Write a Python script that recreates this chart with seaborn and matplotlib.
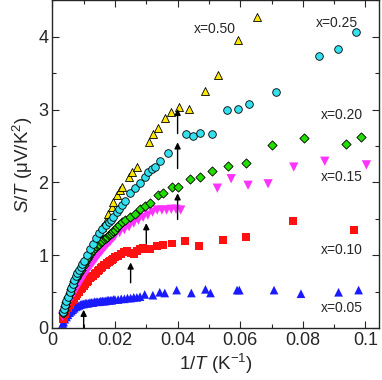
import matplotlib
matplotlib.use("Agg")
import matplotlib.pyplot as plt
import seaborn as sns

# ---- data ----
x_05 = [0.0033,0.0036,0.004,0.0045,0.005,0.0055,0.006,0.0065,0.007,0.0075,0.008,0.0085,0.009,0.0095,0.010,0.0105,0.011,0.0115,0.012,0.0125,0.013,0.0135,0.014,0.0145,0.015,0.0155,0.016,0.0165,0.017,0.0175,0.018,0.0185,0.019,0.0195,0.020,0.021,0.022,0.023,0.024,0.025,0.026,0.027,0.028,
        0.0295,0.0321,0.0343,0.0359,0.0397,0.0444,0.0489,0.0505,0.059,0.0597,0.0708,0.0794,0.0914,0.0978]
y_05 = [0.06,0.08,0.12,0.15,0.18,0.21,0.23,0.25,0.27,0.29,0.30,0.31,0.32,0.33,0.33,0.34,0.34,0.34,0.35,0.35,0.35,0.36,0.36,0.36,0.36,0.37,0.37,0.37,0.37,0.38,0.38,0.38,0.38,0.39,0.39,0.39,0.40,0.40,0.41,0.41,0.42,0.42,0.43,
        0.46,0.45,0.49,0.48,0.52,0.48,0.53,0.48,0.52,0.52,0.52,0.47,0.49,0.52]

x_10 = [0.0033,0.0036,0.004,0.0045,0.005,0.0055,0.006,0.0065,0.007,0.0075,0.008,0.0085,0.009,0.0095,0.010,0.0105,0.011,0.0115,0.012,0.0125,0.013,0.0135,0.014,0.0145,0.015,0.0155,0.016,0.0165,0.017,0.0175,0.018,0.0185,0.019,0.0195,0.020,0.021,0.022,0.023,0.024,0.025,0.026,0.027,0.028,0.029,0.030,
        0.0312,0.0335,0.0354,0.0383,0.0424,0.0467,0.0546,0.0619,0.0768,0.0962]
y_10 = [0.12,0.15,0.19,0.23,0.27,0.31,0.35,0.38,0.41,0.44,0.47,0.50,0.53,0.55,0.58,0.60,0.63,0.65,0.68,0.70,0.72,0.74,0.76,0.78,0.80,0.82,0.84,0.86,0.87,0.89,0.91,0.92,0.94,0.95,0.97,0.99,1.02,1.04,1.06,1.03,1.02,1.06,1.08,1.10,1.08,
        1.09,1.12,1.14,1.16,1.19,1.12,1.21,1.25,1.47,1.34]

x_15 = [0.0033,0.0036,0.004,0.0045,0.005,0.0055,0.006,0.0065,0.007,0.0075,0.008,0.0085,0.009,0.0095,0.010,0.0105,0.011,0.0115,0.012,0.0125,0.013,0.0135,0.014,0.0145,0.015,0.0155,0.016,0.0165,0.017,0.0175,0.018,0.0185,0.019,0.0195,0.020,
        0.0215,0.023,0.0245,0.026,0.0275,0.029,0.0305,0.032,0.0335,0.035,0.0365,0.038,0.0395,0.041,
        0.0527,0.0571,0.0625,0.0689,0.0771,0.0870,0.1003]
y_15 = [0.16,0.19,0.23,0.28,0.33,0.37,0.41,0.45,0.49,0.53,0.57,0.61,0.64,0.68,0.71,0.75,0.78,0.81,0.84,0.87,0.90,0.93,0.96,0.99,1.02,1.04,1.07,1.10,1.12,1.15,1.17,1.19,1.22,1.24,1.26,
        1.31,1.35,1.39,1.44,1.48,1.52,1.55,1.59,1.62,1.62,1.62,1.63,1.63,1.62,
        1.92,2.05,1.96,1.98,2.21,2.29,2.24]

x_20 = [0.0033,0.0036,0.004,0.0045,0.005,0.0055,0.006,0.0065,0.007,0.0075,0.008,0.0085,0.009,0.0095,0.010,0.0105,0.011,0.0115,0.012,0.0125,0.013,0.0135,0.014,0.0145,0.015,0.0155,0.016,0.0165,0.017,0.0175,0.018,0.0185,0.019,0.0195,0.020,
        0.0206,0.0214,0.0222,0.0232,0.0248,0.0264,0.028,0.0297,0.0312,0.0338,0.0354,0.0383,0.0402,0.0441,0.0473,0.0511,0.0562,0.0619,0.0702,0.0803,0.0937,0.0987]
y_20 = [0.21,0.25,0.30,0.36,0.42,0.48,0.53,0.59,0.64,0.68,0.72,0.76,0.80,0.84,0.87,0.91,0.95,0.98,1.01,1.04,1.07,1.10,1.12,1.14,1.16,1.18,1.20,1.22,1.24,1.25,1.27,1.29,1.31,1.33,1.35,
        1.38,1.41,1.45,1.48,1.53,1.57,1.64,1.68,1.71,1.83,1.85,1.94,1.93,2.04,2.07,2.15,2.23,2.26,2.51,2.61,2.53,2.62]

x_25 = [0.0033,0.0036,0.004,0.0045,0.005,0.0055,0.006,0.0065,0.007,0.0075,0.008,0.0085,0.009,0.0095,0.010,0.011,0.012,0.013,0.014,0.015,0.016,0.017,0.018,
        0.0188,0.0194,0.0206,0.0214,0.0222,0.0232,0.0248,0.0264,0.028,0.0295,0.0305,0.0317,0.0328,0.0344,0.0369,0.0427,0.0448,0.0470,0.0511,0.0559,0.0594,0.0629,0.0714,0.0851,0.0911,0.0971]
y_25 = [0.22,0.26,0.31,0.37,0.43,0.49,0.55,0.61,0.66,0.71,0.75,0.80,0.84,0.88,0.92,1.00,1.08,1.16,1.23,1.30,1.36,1.41,1.45,
        1.48,1.52,1.59,1.64,1.69,1.75,1.85,1.92,1.99,2.07,2.14,2.19,2.21,2.30,2.41,2.67,2.63,2.68,2.66,2.99,3.01,3.08,3.24,3.73,3.83,4.07]

x_50 = [0.0033,0.004,0.005,0.006,0.007,0.008,0.009,0.010,0.011,0.012,0.013,0.014,0.015,0.016,0.017,0.0178,0.019,0.0194,0.0206,0.0216,0.0223,0.0244,0.0254,0.027,0.031,0.0322,0.0338,0.036,0.038,0.0406,0.0438,0.0486,0.053,0.0594,0.0654]
y_50 = [0.22,0.31,0.43,0.55,0.66,0.75,0.84,0.92,1.00,1.08,1.16,1.23,1.30,1.38,1.47,1.56,1.66,1.73,1.82,1.90,1.93,2.08,2.14,2.21,2.55,2.66,2.74,2.89,2.96,3.03,3.01,3.26,3.47,3.96,4.27]

series_labels = ["x=0.05", "x=0.10", "x=0.15", "x=0.20", "x=0.25", "x=0.50"]
label_x = [0.0925, 0.0925, 0.0925, 0.0925, 0.0910, 0.0520]
label_y = [0.27, 1.07, 2.08, 2.92, 4.19, 4.11]

arrow_x = [0.010, 0.025, 0.030, 0.040, 0.040, 0.040]
arrow_y0 = [0.00, 0.62, 1.16, 1.49, 2.19, 2.67]
arrow_y1 = [0.25, 0.90, 1.44, 1.85, 2.55, 3.01]

x_ticks = [0, 0.02, 0.04, 0.06, 0.08, 0.1]
x_ticklabels = ["0", "0.02", "0.04", "0.06", "0.08", "0.1"]
y_ticks = [0, 1, 2, 3, 4]
y_ticklabels = ["0", "1", "2", "3", "4"]

# ---- style ----
sns.set_style("ticks")
plt.rcParams["font.family"] = ["Liberation Sans", "DejaVu Sans"]
plt.rcParams["mathtext.fontset"] = "custom"
plt.rcParams["mathtext.rm"] = "Liberation Sans"
plt.rcParams["mathtext.it"] = "Liberation Sans:italic"
plt.rcParams["mathtext.default"] = "regular"

fig, ax = plt.subplots(figsize=(3.82, 3.80), dpi=100)
fig.subplots_adjust(left=0.137, right=0.992, bottom=0.137, top=0.999)

# (x, y, marker, face, edge, size, zorder) -- x=0.50 sits lowest
styles = [
    (x_50, y_50, "^", "#ffe800", "black", 33, 2.0),
    (x_05, y_05, "^", "#1a1aff", "none", 39, 2.1),
    (x_10, y_10, "s", "#ff1111", "none", 33, 2.2),
    (x_15, y_15, "v", "#ff33ff", "none", 45, 2.3),
    (x_20, y_20, "D", "#22dd00", "black", 22, 2.4),
    (x_25, y_25, "o", "#33e0f0", "black", 30, 2.5),
]
for xs, ys, m, c, ec, s, z in styles:
    sns.scatterplot(x=xs, y=ys, marker=m, color=c, edgecolor=ec,
                    linewidth=0.6 if ec != "none" else 0, s=s, ax=ax, zorder=z)

for xa, y0, y1 in zip(arrow_x, arrow_y0, arrow_y1):
    ax.annotate("", xy=(xa, y1), xytext=(xa, y0),
                arrowprops=dict(arrowstyle="-|>", color="black", lw=1.0,
                                mutation_scale=9, shrinkA=0, shrinkB=0),
                zorder=4)

for t, lx, ly in zip(series_labels, label_x, label_y):
    ax.text(lx, ly, t, fontsize=10, ha="center", va="center")

ax.set_xlim(0, 0.1043)
ax.set_ylim(0, 4.5)
ax.set_xticks(x_ticks)
ax.set_xticklabels(x_ticklabels)
ax.set_yticks(y_ticks)
ax.set_yticklabels(y_ticklabels)
ax.xaxis.set_minor_locator(matplotlib.ticker.MultipleLocator(0.01))
ax.yaxis.set_minor_locator(matplotlib.ticker.MultipleLocator(0.5))
ax.tick_params(which="both", direction="in", top=True, right=True, width=0.8,
               labelsize=13, pad=3)
ax.tick_params(which="major", length=5)
ax.tick_params(which="minor", length=3)
for sp in ax.spines.values():
    sp.set_linewidth(1.0)
    sp.set_visible(True)

ax.set_xlabel(r"1/$\mathit{T}$ (K$^{-1}$)", fontsize=13.5, labelpad=2)
ax.set_ylabel(r"$\mathit{S/T}$ ($\mu$V/K$^{2}$)", fontsize=13.5, labelpad=2)

fig.savefig("out.png", dpi=100)
